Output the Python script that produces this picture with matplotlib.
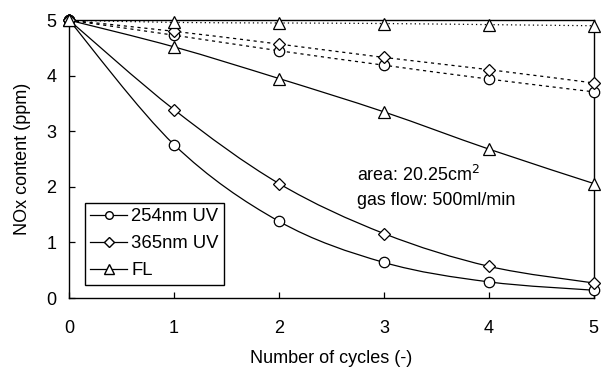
import matplotlib
matplotlib.use("Agg")
import matplotlib.pyplot as plt
import numpy as np
from matplotlib.path import Path
from matplotlib.patches import PathPatch
from matplotlib.lines import Line2D

plt.rcParams['font.family'] = ['Liberation Sans', 'DejaVu Sans']
FS_TICK = 13
FS_LAB = 13
FS_ANN = 12.9
FS_LEG = 13.3

cycles = [0, 1, 2, 3, 4, 5]
uv254_solid = [5.0, 2.76, 1.38, 0.64, 0.29, 0.14]
uv365_solid = [5.0, 3.39, 2.06, 1.16, 0.57, 0.27]
fl_solid = [5.0, 4.52, 3.95, 3.35, 2.68, 2.06]
uv254_dot = [5.0, 4.73, 4.45, 4.19, 3.94, 3.71]
uv365_dot = [5.0, 4.80, 4.57, 4.33, 4.11, 3.87]
fl_dot = [5.0, 4.96, 4.95, 4.94, 4.92, 4.90]

labels = ['254nm UV', '365nm UV', 'FL']


def smooth_path(x, y):
    x = np.asarray(x, float); y = np.asarray(y, float)
    verts = [(x[0], y[0])]
    codes = [Path.MOVETO]
    n = len(x)
    for i in range(n - 1):
        p0 = np.array([x[max(i - 1, 0)], y[max(i - 1, 0)]])
        p1 = np.array([x[i], y[i]])
        p2 = np.array([x[i + 1], y[i + 1]])
        p3 = np.array([x[min(i + 2, n - 1)], y[min(i + 2, n - 1)]])
        c1 = p1 + (p2 - p0) / 6.0
        c2 = p2 - (p3 - p1) / 6.0
        verts += [tuple(c1), tuple(c2), tuple(p2)]
        codes += [Path.CURVE4] * 3
    return Path(verts, codes)


fig = plt.figure(figsize=(6.01, 3.67), dpi=100)
ax = fig.add_axes([0.115, 0.188, 0.873, 0.757])

series = [
    (uv254_solid, 'o', '-'),
    (uv365_solid, 'D', '-'),
    (fl_solid, '^', '-'),
    (uv254_dot, 'o', (0, (2.5, 3))),
    (uv365_dot, 'D', (0, (2.5, 3))),
    (fl_dot, '^', (0, (1, 2.5))),
]
for vals, m, ls in series:
    p = PathPatch(smooth_path(cycles, vals), facecolor='none', edgecolor='black',
                  lw=0.9, linestyle=ls, zorder=2)
    ax.add_patch(p)
    ms = 7.5 if m != 'D' else 6.5
    if m == '^':
        ms = 9
    ax.plot(cycles, vals, linestyle='none', marker=m, markersize=ms,
            markerfacecolor='white', markeredgecolor='black', markeredgewidth=0.9,
            zorder=3, clip_on=False)

ax.set_xlim(0, 5)
ax.set_ylim(0, 5)
ax.set_xticks(range(6))
ax.set_yticks(range(6))
ax.tick_params(direction='in', length=4, width=0.9, labelsize=FS_TICK)
ax.tick_params(axis='x', pad=16)
ax.tick_params(axis='y', pad=9)
for s in ax.spines.values():
    s.set_linewidth(1.0)

ax.set_xlabel('Number of cycles (-)', fontsize=FS_LAB, labelpad=9)
ax.set_ylabel('NOx content (ppm)', fontsize=FS_LAB, labelpad=11)

ax.text(2.74, 2.21, 'area: 20.25cm$^2$', fontsize=FS_ANN, va='center')
ax.text(2.74, 1.76, 'gas flow: 500ml/min', fontsize=FS_ANN, va='center')

handles = [
    Line2D([], [], color='black', lw=0.9, marker='o', markersize=5.5,
           markerfacecolor='white', markeredgecolor='black'),
    Line2D([], [], color='black', lw=0.9, marker='D', markersize=5,
           markerfacecolor='white', markeredgecolor='black'),
    Line2D([], [], color='black', lw=0.9, marker='^', markersize=6.5,
           markerfacecolor='white', markeredgecolor='black'),
]
leg = ax.legend(handles, labels, loc='lower left', bbox_to_anchor=(0.03, 0.047),
                fontsize=FS_LEG, fancybox=False, edgecolor='black', framealpha=1,
                handlelength=2.0, handletextpad=0.2, borderpad=0.3,
                labelspacing=0.55, borderaxespad=0)
leg.get_frame().set_linewidth(1.0)

fig.savefig('out.png', dpi=100)
